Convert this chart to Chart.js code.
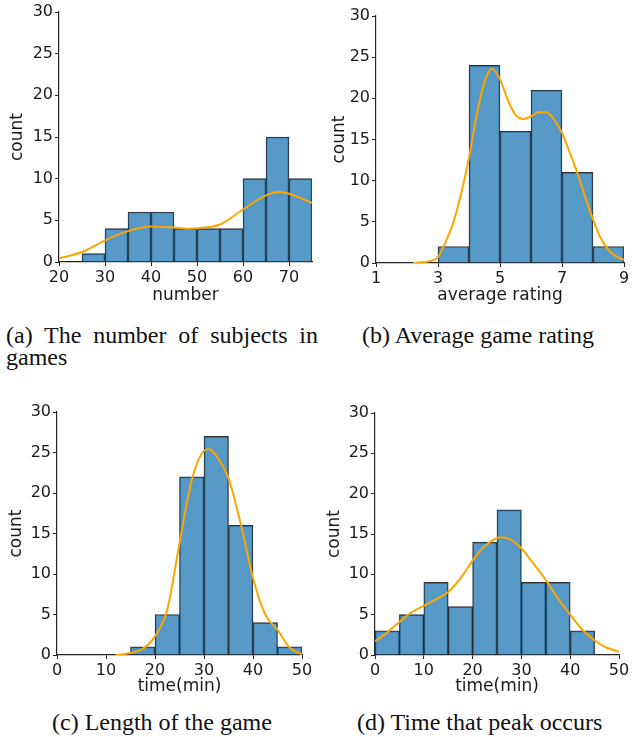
<!DOCTYPE html>
<html>
<head>
<meta charset="utf-8">
<script src="https://cdn.jsdelivr.net/npm/chart.js"></script>
<style>
  body { margin: 0; background: #fff; }
  #page { position: relative; width: 637px; height: 737px; overflow: hidden; background: #fff; }
  .panel { position: absolute; }
  .cap { position: absolute; font-family: "Liberation Serif", "Times New Roman", serif; font-size: 24px; line-height: 22px; color: #111; white-space: nowrap; }
  #capA { white-space: normal; width: 312px; text-align: justify; text-align-last: left; }
</style>
</head>
<body>
<div id="page">
  <canvas class="panel" id="chartA" width="320" height="310" style="left:0;top:0"></canvas>
  <canvas class="panel" id="chartB" width="317" height="310" style="left:320px;top:0"></canvas>
  <canvas class="panel" id="chartC" width="320" height="310" style="left:0;top:395px"></canvas>
  <canvas class="panel" id="chartD" width="317" height="310" style="left:320px;top:395px"></canvas>

  <div class="cap" id="capA" style="left:6px;top:324px">(a) The number of subjects in games</div>
  <div class="cap" style="left:362px;top:324px">(b) Average game rating</div>
  <div class="cap" style="left:52px;top:711px">(c) Length of the game</div>
  <div class="cap" style="left:357px;top:711px">(d) Time that peak occurs</div>
</div>

<script>
    // ▼ shared count axis
    const countTicks = [0, 5, 10, 15, 20, 25, 30];

    // ▼ (a) number of subjects in games
    const subjBins = [27.5, 32.5, 37.5, 42.5, 47.5, 52.5, 57.5, 62.5, 67.5, 72.5];
    const subjCounts = [1, 4, 6, 6, 4, 4, 4, 10, 15, 10];
    const subjKdeX = [20, 25, 30, 35, 40, 45, 48, 50, 55, 60, 65, 68, 70, 75];
    const subjKdeY = [0.44, 1.2, 2.6, 3.7, 4.25, 4.15, 4.0, 4.05, 4.5, 6.3, 8.0, 8.4, 8.2, 7.1];
    const subjTicks = [20, 30, 40, 50, 60, 70];

    // ▼ (b) average game rating
    const ratingBins = [3.5, 4.5, 5.5, 6.5, 7.5, 8.5];
    const ratingCounts = [2, 24, 16, 21, 11, 2];
    const ratingKdeX = [2.2, 2.5, 2.75, 3, 3.25, 3.5, 3.75, 4, 4.25, 4.5, 4.75, 5, 5.25, 5.5, 5.75, 6, 6.25, 6.5, 6.75, 7, 7.25, 7.5, 7.75, 8, 8.25, 8.5, 8.75, 9];
    const ratingKdeY = [0, 0.08, 0.25, 0.7, 2.6, 5.0, 8.5, 12.8, 18.0, 22.0, 23.6, 22.3, 19.8, 18.0, 17.5, 17.8, 18.3, 18.3, 17.4, 15.8, 13.4, 10.9, 8.0, 5.3, 3.0, 1.6, 0.8, 0.4];
    const ratingTicks = [1, 3, 5, 7, 9];

    // ▼ (c) length of the game
    const lengthBins = [17.5, 22.5, 27.5, 32.5, 37.5, 42.5, 47.5];
    const lengthCounts = [1, 5, 22, 27, 16, 4, 1];
    const lengthKdeX = [12, 15, 17.5, 20, 22.5, 25, 27.5, 30, 31, 32.5, 35, 37.5, 40, 42.5, 45, 47.5, 50];
    const lengthKdeY = [0, 0.25, 0.75, 2.3, 5.6, 13.8, 21.6, 25.2, 25.4, 24.6, 21.8, 16.2, 9.5, 5.0, 3.1, 0.9, 0.1];

    // ▼ (d) time that peak occurs
    const peakBins = [2.5, 7.5, 12.5, 17.5, 22.5, 27.5, 32.5, 37.5, 42.5];
    const peakCounts = [3, 5, 9, 6, 14, 18, 9, 9, 3];
    const peakKdeX = [0, 2.5, 5, 7.5, 10, 12.5, 15, 17.5, 20, 22.5, 25, 26, 27.5, 30, 32.5, 35, 37.5, 40, 42.5, 45, 47.5, 50];
    const peakKdeY = [1.7, 2.8, 4.1, 5.3, 6.1, 6.9, 7.8, 9.5, 11.7, 13.5, 14.5, 14.6, 14.4, 13.2, 11.3, 9.3, 7.0, 5.0, 3.1, 1.8, 0.9, 0.4];
    const timeTicks = [0, 10, 20, 30, 40, 50];

    const axisColor = '#262626';
    const textColor = '#1a1a1a';
    Chart.defaults.font.family = '"DejaVu Sans", sans-serif';

    // ▼ histogram + kde line in one chart
    function histogram(id, o) {
        new Chart(document.getElementById(id), {
            type: 'bar',
            data: {
                datasets: [
                    {
                        type: 'line',
                        data: o.kdeX.map((x, i) => ({ x, y: o.kdeY[i] })),
                        borderColor: '#FFA500', borderWidth: 2, pointRadius: 0,
                        cubicInterpolationMode: 'monotone', fill: false, order: 0
                    },
                    {
                        type: 'bar',
                        data: o.bins.map((x, i) => ({ x, y: o.counts[i] })),
                        backgroundColor: 'rgba(31,119,180,0.75)',
                        borderColor: 'rgba(0,0,0,0.8)', borderWidth: 1,
                        barPercentage: 1, categoryPercentage: 1, order: 1
                    }
                ]
            },
            options: {
                responsive: false,
                animation: false,
                layout: { padding: o.pad },
                plugins: { legend: { display: false }, tooltip: { enabled: false } },
                scales: {
                    x: {
                        type: 'linear', min: o.xMin, max: o.xMax, offset: false,
                        afterBuildTicks: s => { s.ticks = o.xTicks.map(v => ({ value: v })); },
                        afterFit: s => { s.height = o.xAxisH; },
                        grid: { drawOnChartArea: false, drawTicks: true, tickLength: 4, color: axisColor, offset: false },
                        border: { display: true, color: axisColor, width: 1.2 },
                        ticks: { padding: 2, font: { size: 16 }, color: textColor, maxRotation: 0, autoSkip: false },
                        title: { display: true, text: o.xTitle, font: { size: 17 }, color: textColor, padding: { top: 0, bottom: o.xTitlePad } }
                    },
                    y: {
                        type: 'linear', min: 0, max: 30,
                        afterBuildTicks: s => { s.ticks = countTicks.map(v => ({ value: v })); },
                        afterFit: s => { s.width = o.yAxisW; },
                        grid: { drawOnChartArea: false, drawTicks: true, tickLength: 4, color: axisColor },
                        border: { display: true, color: axisColor, width: 1.2 },
                        ticks: { padding: 2, font: { size: 16 }, color: textColor, autoSkip: false },
                        title: { display: true, text: 'count', font: { size: 17 }, color: textColor, padding: { top: o.yTitlePad, bottom: 0 } }
                    }
                }
            }
        });
    }

    histogram('chartA', {
        bins: subjBins, counts: subjCounts, kdeX: subjKdeX, kdeY: subjKdeY,
        xMin: 20, xMax: 75, xTicks: subjTicks, xTitle: 'number',
        pad: { left: 0, top: 12, right: 8, bottom: 0 }, yAxisW: 59, xAxisH: 48, yTitlePad: 7, xTitlePad: 4
    });
    histogram('chartB', {
        bins: ratingBins, counts: ratingCounts, kdeX: ratingKdeX, kdeY: ratingKdeY,
        xMin: 1, xMax: 9, xTicks: ratingTicks, xTitle: 'average rating',
        pad: { left: 0, top: 16, right: 13, bottom: 0 }, yAxisW: 56, xAxisH: 47, yTitlePad: 9, xTitlePad: 4
    });
    histogram('chartC', {
        bins: lengthBins, counts: lengthCounts, kdeX: lengthKdeX, kdeY: lengthKdeY,
        xMin: 0, xMax: 50, xTicks: timeTicks, xTitle: 'time(min)',
        pad: { left: 0, top: 17, right: 18, bottom: 0 }, yAxisW: 57, xAxisH: 50, yTitlePad: 6.5, xTitlePad: 8
    });
    histogram('chartD', {
        bins: peakBins, counts: peakCounts, kdeX: peakKdeX, kdeY: peakKdeY,
        xMin: 0, xMax: 50, xTicks: timeTicks, xTitle: 'time(min)',
        pad: { left: 0, top: 18, right: 18, bottom: 0 }, yAxisW: 55, xAxisH: 50, yTitlePad: 4, xTitlePad: 8
    });
</script>
</body>
</html>
